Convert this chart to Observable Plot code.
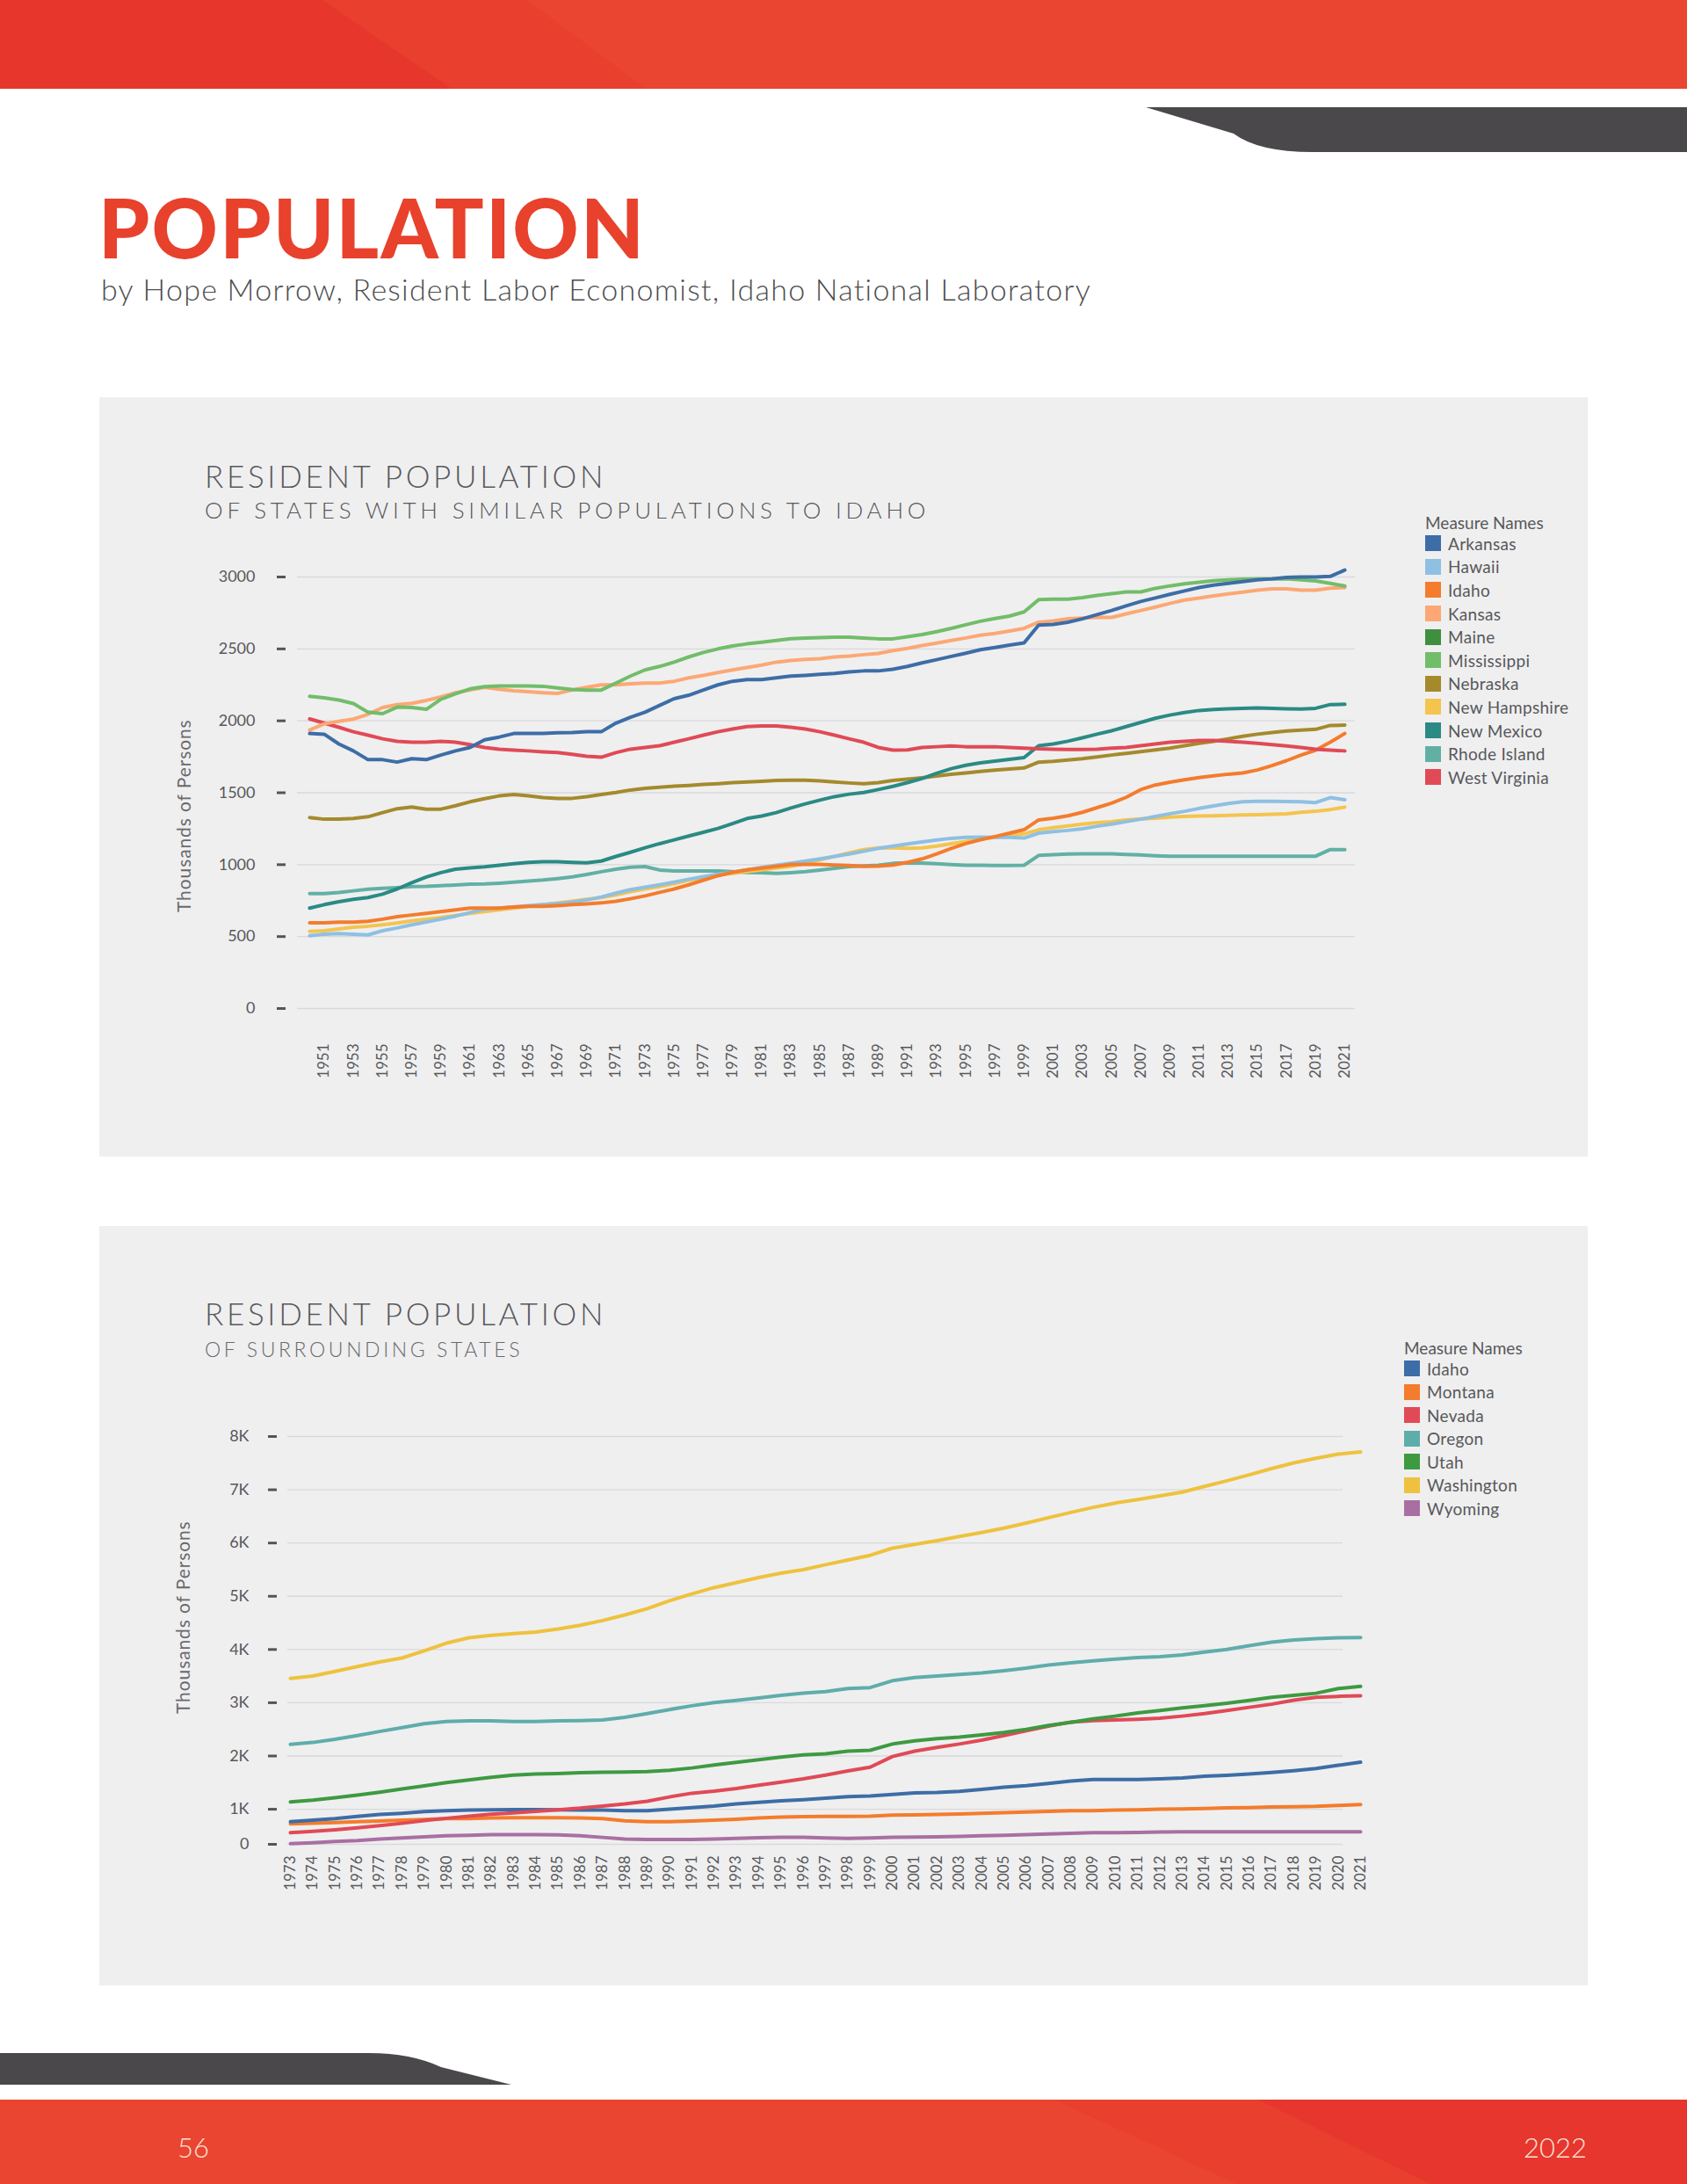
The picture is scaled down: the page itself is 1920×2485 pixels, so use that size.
<!DOCTYPE html>
<html>
<head>
<meta charset="utf-8">
<script src="https://cdn.jsdelivr.net/npm/d3@7"></script>
<script src="https://cdn.jsdelivr.net/npm/@observablehq/plot@0.6"></script>
<style>
  html, body { margin: 0; padding: 0; background: #fff; }
  #page { position: relative; width: 1920px; height: 2485px; overflow: hidden; background: #fff; font-family: Lato, "Open Sans", sans-serif; }
  .abs { position: absolute; white-space: nowrap; }
  .panel { position: absolute; background: #efeff0; }
  .ctitle { color: #58585a; font-weight: 300; line-height: 1; }
  .ylab { color: #6a6a6c; font-size: 21px; letter-spacing: 0.9px; font-weight: 400; line-height: 1; transform-origin: 0 0; transform: rotate(-90deg); }
  .legend-title { color: #58585a; font-size: 19px; line-height: 1; }
  .legend-item { color: #58585a; font-size: 19px; letter-spacing: 0.3px; line-height: 1; display: flex; align-items: center; }
  .sw { width: 18px; height: 18px; margin-right: 8px; display: inline-block; }
  .chart { position: absolute; }
</style>
</head>
<body>
<div id="page">
  <svg class="abs" style="left:0;top:0" width="1920" height="2485">
    <rect x="0" y="0" width="1920" height="101" fill="#ea4530"/>
    <polygon points="0,0 600,0 735,101 0,101" fill="#e93f2f"/>
    <polygon points="0,0 367,0 514,101 0,101" fill="#e7372d"/>
    <path d="M1304,122 L1920,122 L1920,173 L1494,173 Q1432,173 1404,152 Z" fill="#4b484c"/>
    <path d="M0,2336 L420,2336 Q468,2336 502,2352 L582,2372 L0,2372 Z" fill="#4b484c"/>
    <rect x="0" y="2389" width="1920" height="96" fill="#ea4530"/>
    <polygon points="1200,2389 1920,2389 1920,2485 1408,2485" fill="#e93f2f"/>
    <polygon points="1432,2389 1920,2389 1920,2485 1628,2485" fill="#e6362d"/>
  </svg>

  <div class="abs" style="left:112px;top:212px;font-size:93px;font-weight:900;color:#e8412c;line-height:1;letter-spacing:2.3px">POPULATION</div>
  <div class="abs" style="left:115px;top:312px;font-size:34px;font-weight:300;color:#4d4d4f;line-height:1;letter-spacing:1.25px">by Hope Morrow, Resident Labor Economist, Idaho National Laboratory</div>

  <div class="panel" style="left:113px;top:452px;width:1694px;height:864px"></div>
  <div class="panel" style="left:113px;top:1395px;width:1694px;height:864px"></div>

  <div class="abs ctitle" style="left:233px;top:524px;font-size:35px;letter-spacing:3.7px">RESIDENT POPULATION</div>
  <div class="abs ctitle" style="left:233px;top:567px;font-size:26px;letter-spacing:4.8px">OF STATES WITH SIMILAR POPULATIONS TO IDAHO</div>
  <div class="abs ctitle" style="left:233px;top:1477px;font-size:35px;letter-spacing:3.7px">RESIDENT POPULATION</div>
  <div class="abs ctitle" style="left:233px;top:1524px;font-size:23px;letter-spacing:3.6px;color:#6a6a6c">OF SURROUNDING STATES</div>

  <div class="abs ylab" style="left:198px;top:1038px">Thousands of Persons</div>
  <div class="abs ylab" style="left:197px;top:1950px">Thousands of Persons</div>

  <div id="chart1" class="chart" style="left:113px;top:452px"></div>
  <div id="chart2" class="chart" style="left:113px;top:1395px"></div>

  <div id="legend1" class="abs" style="left:1622px;top:585px"></div>
  <div id="legend2" class="abs" style="left:1598px;top:1524px"></div>

  <div class="abs" style="left:202px;top:2428px;font-size:31px;color:#fbe0d8;line-height:1;font-weight:300">56</div>
  <div class="abs" style="right:114px;top:2428px;font-size:31px;color:#fbe0d8;line-height:1;font-weight:300">2022</div>
</div>

<script>
// ---------- Chart 1: states with similar populations to Idaho (thousands) ----------
const years1 = d3.range(1950, 2022);
const yearLabels1 = d3.range(1951, 2022, 2);
const yTicks1 = [0, 500, 1000, 1500, 2000, 2500, 3000];
const states1 = ["Arkansas","Hawaii","Idaho","Kansas","Maine","Mississippi","Nebraska","New Hampshire","New Mexico","Rhode Island","West Virginia"];
const colors1 = ["#3d6da6","#8ec0e2","#f47c2c","#fca874","#3f8f3f","#72bd69","#a58a2c","#f4c44e","#2b8a84","#62b0a4","#e04a56"];

const arkansas = [1912,1907,1839,1791,1730,1730,1713,1737,1730,1762, 1791,1815,1868,1887,1912,1912,1912,1917,1919,1924, 1924,1984,2025,2060,2107,2154,2178,2214,2250,2275, 2287,2287,2299,2311,2316,2323,2330,2340,2347,2347, 2359,2378,2403,2425,2448,2470,2494,2510,2527,2542, 2666,2670,2685,2709,2738,2767,2799,2830,2854,2879, 2903,2927,2944,2956,2968,2980,2987,2997,3000,3000, 3004,3048];
const hawaii = [505,517,521,517,512,541,560,582,601,621, 642,667,691,698,705,715,722,730,739,754, 775,802,826,843,860,879,899,916,933,947, 964,981,996,1010,1025,1040,1057,1074,1093,1113, 1129,1144,1158,1171,1183,1190,1192,1190,1190,1185, 1219,1229,1238,1250,1267,1282,1299,1316,1335,1354, 1371,1391,1408,1425,1437,1441,1441,1439,1437,1432, 1466,1451];
const idaho1 = [596,596,601,601,606,621,638,650,662,674, 686,698,698,698,705,710,710,715,722,727, 734,746,763,783,807,831,860,892,923,947, 964,976,988,1000,1002,1002,997,994,988,990, 997,1016,1040,1074,1113,1146,1173,1195,1219,1243, 1311,1323,1340,1364,1396,1427,1468,1522,1554,1573, 1590,1605,1617,1629,1638,1658,1689,1723,1762,1796, 1851,1912];
const kansas = [1936,1979,1996,2012,2045,2093,2113,2122,2142,2166, 2195,2214,2233,2219,2209,2202,2195,2190,2214,2233, 2250,2250,2258,2262,2262,2275,2299,2316,2335,2354, 2371,2388,2408,2420,2427,2432,2444,2450,2460,2468, 2488,2504,2523,2540,2559,2576,2595,2607,2624,2643, 2686,2695,2710,2714,2719,2719,2743,2767,2791,2816, 2840,2854,2869,2883,2895,2908,2917,2917,2908,2908, 2922,2927];
const mississippi = [2170,2160,2145,2120,2060,2050,2095,2093,2080,2150, 2188,2222,2238,2243,2243,2243,2240,2228,2218,2214, 2214,2262,2311,2354,2378,2408,2444,2475,2500,2520, 2535,2547,2559,2571,2576,2578,2581,2581,2575,2570, 2570,2585,2600,2620,2643,2668,2692,2711,2728,2757, 2842,2846,2846,2856,2872,2884,2896,2896,2921,2938, 2952,2964,2974,2980,2985,2987,2987,2987,2980,2973, 2956,2937];
const nebraska = [1328,1316,1316,1321,1333,1362,1389,1401,1386,1386, 1410,1437,1459,1478,1488,1478,1466,1461,1461,1473, 1488,1502,1519,1531,1538,1546,1551,1558,1563,1570, 1575,1580,1585,1587,1587,1582,1575,1568,1563,1570, 1585,1594,1604,1616,1628,1638,1648,1657,1665,1672, 1713,1718,1728,1737,1749,1762,1774,1786,1798,1810, 1827,1844,1858,1875,1892,1907,1919,1929,1936,1941, 1968,1970];
const newHampshire = [536,541,553,565,572,582,594,609,621,633, 647,662,674,686,698,710,722,734,746,759, 771,790,812,831,848,867,892,911,928,940, 952,964,976,988,1010,1034,1058,1082,1105,1117, 1117,1113,1117,1129,1146,1161,1178,1190,1202,1214, 1243,1257,1270,1282,1292,1299,1311,1318,1323,1330, 1335,1338,1340,1342,1345,1347,1350,1354,1364,1371, 1383,1400];
const newMexico = [698,722,742,759,771,795,831,874,914,945, 968,978,985,996,1006,1016,1021,1021,1016,1013, 1025,1057,1086,1117,1146,1172,1199,1225,1252,1286, 1321,1338,1362,1394,1423,1449,1473,1490,1502,1522, 1544,1570,1599,1635,1667,1691,1708,1720,1732,1744, 1827,1839,1858,1882,1907,1931,1960,1989,2018,2040, 2058,2072,2079,2084,2087,2089,2087,2084,2082,2087, 2113,2115];
const rhodeIsland = [799,799,806,818,830,835,840,847,849,854, 859,864,866,871,878,886,893,903,915,932, 951,968,982,987,963,956,956,956,956,951, 946,944,939,944,951,963,975,987,992,996, 1009,1013,1011,1006,1001,996,996,994,994,996, 1064,1069,1074,1076,1076,1076,1071,1067,1062,1059, 1059,1059,1059,1059,1059,1059,1059,1059,1059,1059, 1105,1105];
const westVirginia = [2013,1984,1955,1924,1900,1875,1858,1851,1851,1858, 1851,1834,1815,1803,1796,1791,1784,1779,1767,1754, 1747,1779,1803,1815,1827,1851,1875,1900,1924,1943, 1960,1965,1965,1955,1943,1924,1900,1875,1851,1815, 1796,1798,1815,1820,1825,1820,1820,1820,1815,1810, 1805,1803,1801,1801,1803,1810,1815,1827,1839,1851, 1858,1863,1863,1858,1851,1844,1834,1825,1815,1803, 1796,1791];

// ---------- Chart 2: surrounding states (thousands) ----------
const years2 = d3.range(1973, 2022);
const yMin2 = 341;
const yTicks2 = [yMin2, 1000, 2000, 3000, 4000, 5000, 6000, 7000, 8000];
const yTickLabels2 = ["0","1K","2K","3K","4K","5K","6K","7K","8K"];
const states2 = ["Idaho","Montana","Nevada","Oregon","Utah","Washington","Wyoming"];
const colors2 = ["#3d6da6","#f47c2c","#e04a56","#5fadab","#3e9a40","#eec23e","#a96fa3"];

const idaho2 = [765,795,824,865,901,924,954,971,983,989, 995,995,989,983,983,971,971,1001,1030,1059, 1101,1130,1160,1180,1207,1236,1248,1277,1307,1313, 1336,1371,1413,1442,1483,1530,1560,1560,1560,1572, 1589,1619,1636,1660,1689,1725,1766,1825,1884];
const montana = [724,736,748,765,777,795,806,824,824,836, 842,842,842,836,824,783,765,765,777,795, 812,836,853,860,865,865,871,889,895,901, 912,924,936,948,959,971,971,983,989,1001, 1007,1012,1024,1030,1042,1048,1054,1071,1089];
const nevada = [559,585,615,650,690,735,785,830,870,905, 930,960,990,1020,1060,1100,1150,1230,1300,1340, 1390,1450,1510,1570,1640,1720,1790,1990,2090,2160, 2225,2296,2384,2472,2560,2637,2666,2678,2690,2708, 2749,2796,2855,2914,2972,3049,3102,3120,3131];
const oregon = [2219,2254,2313,2384,2460,2531,2607,2649,2660,2660, 2649,2649,2660,2666,2678,2725,2796,2872,2943,3002, 3043,3090,3140,3180,3208,3267,3285,3414,3473,3502, 3532,3561,3602,3649,3708,3749,3785,3820,3849,3867, 3897,3950,4002,4073,4138,4179,4203,4220,4226];
const utah = [1136,1170,1215,1265,1320,1380,1440,1500,1550,1600, 1640,1660,1670,1685,1695,1700,1705,1730,1775,1830, 1880,1930,1980,2020,2042,2090,2107,2225,2284,2325, 2354,2396,2443,2501,2572,2631,2696,2749,2808,2855, 2902,2943,2990,3043,3102,3137,3178,3267,3308];
const washington = [3455,3502,3590,3679,3767,3840,3973,4120,4220,4267, 4297,4326,4385,4456,4544,4650,4768,4915,5044,5162, 5256,5350,5433,5500,5592,5680,5768,5904,5974,6045, 6121,6198,6280,6375,6475,6575,6669,6751,6816,6887, 6957,7063,7169,7281,7398,7504,7592,7669,7710];
const wyoming = [353,371,394,412,441,459,483,500,512,524, 524,524,518,500,471,441,430,430,430,441, 453,465,471,471,459,453,459,471,477,483, 488,500,512,524,536,547,559,559,565,571, 577,577,577,577,577,577,577,577,577];

// ---------- build tidy rows ----------
function rows(years, series) {
  const out = [];
  for (const [state, values] of series) values.forEach((v, i) => out.push({state, year: years[i], value: v}));
  return out;
}
const series1 = [["Nebraska", nebraska],["Rhode Island", rhodeIsland],["New Hampshire", newHampshire],["Hawaii", hawaii],["Idaho", idaho1],["New Mexico", newMexico],["West Virginia", westVirginia],["Kansas", kansas],["Mississippi", mississippi],["Arkansas", arkansas]];
const series2 = [["Wyoming", wyoming],["Montana", montana],["Idaho", idaho2],["Nevada", nevada],["Utah", utah],["Oregon", oregon],["Washington", washington]];
const data1 = rows(years1, series1);
const data2 = rows(years2, series2);

const gridColor = "#d9d9dc";
const textColor = "#58585a";

// ---------- chart 1 ----------
const x1Domain = [1949.16, 2021.72];
const chart1 = Plot.plot({
  width: 1694, height: 864,
  marginLeft: 212, marginRight: 265, marginTop: 204, marginBottom: 169,
  style: {background: "transparent", fontFamily: "Lato, 'Open Sans', sans-serif", color: textColor, overflow: "visible"},
  x: {domain: x1Domain, insetLeft: 13},
  y: {domain: [0, 3000]},
  color: {domain: states1, range: colors1},
  marks: [
    Plot.ruleY(yTicks1, {x1: x1Domain[0], x2: x1Domain[1], stroke: gridColor, strokeWidth: 1.3}),
    Plot.axisY(yTicks1, {tickSize: 10, tickPadding: 25, strokeWidth: 3, stroke: "#555", fontSize: 18, label: null, tickFormat: d => String(d)}),
    Plot.axisX(yearLabels1, {tickRotate: -90, tickSize: 0, tickPadding: 40, fontSize: 17, label: null, tickFormat: d => String(d)}),
    Plot.line(data1, {x: "year", y: "value", z: "state", stroke: "state", strokeWidth: 4, strokeLinejoin: "round", strokeLinecap: "round"})
  ]
});
document.getElementById("chart1").appendChild(chart1);

// ---------- chart 2 ----------
const x2Domain = [1972.88, 2020.21];
const chart2 = Plot.plot({
  width: 1694, height: 864,
  marginLeft: 202, marginRight: 279, marginTop: 239, marginBottom: 161,
  style: {background: "transparent", fontFamily: "Lato, 'Open Sans', sans-serif", color: textColor, overflow: "visible"},
  x: {domain: x2Domain, insetLeft: 12},
  y: {domain: [yMin2, 8000]},
  color: {domain: states2, range: colors2},
  marks: [
    Plot.ruleY(yTicks2, {x1: x2Domain[0], x2: x2Domain[1], stroke: gridColor, strokeWidth: 1.3}),
    Plot.axisY(yTicks2, {tickSize: 10, tickPadding: 22, strokeWidth: 3, stroke: "#555", fontSize: 18, label: null, tickFormat: d => yTickLabels2[yTicks2.indexOf(d)]}),
    Plot.axisX(years2, {tickRotate: -90, tickSize: 0, tickPadding: 13, fontSize: 17, label: null, tickFormat: d => String(d)}),
    Plot.line(data2, {x: "year", y: "value", z: "state", stroke: "state", strokeWidth: 4, strokeLinejoin: "round", strokeLinecap: "round"})
  ]
});
document.getElementById("chart2").appendChild(chart2);

// ---------- legends ----------
function legend(el, states, colors, gap) {
  const box = document.getElementById(el);
  const t = document.createElement("div");
  t.className = "legend-title";
  t.textContent = "Measure Names";
  t.style.height = "18px";
  t.style.marginBottom = "2px";
  box.appendChild(t);
  states.forEach((s, i) => {
    const it = document.createElement("div");
    it.className = "legend-item";
    it.style.height = gap + "px";
    const sw = document.createElement("span");
    sw.className = "sw";
    sw.style.background = colors[i];
    const lab = document.createElement("span");
    lab.textContent = s;
    it.appendChild(sw); it.appendChild(lab);
    box.appendChild(it);
  });
}
legend("legend1", states1, colors1, 26.6);
legend("legend2", states2, colors2, 26.5);
</script>
</body>
</html>
